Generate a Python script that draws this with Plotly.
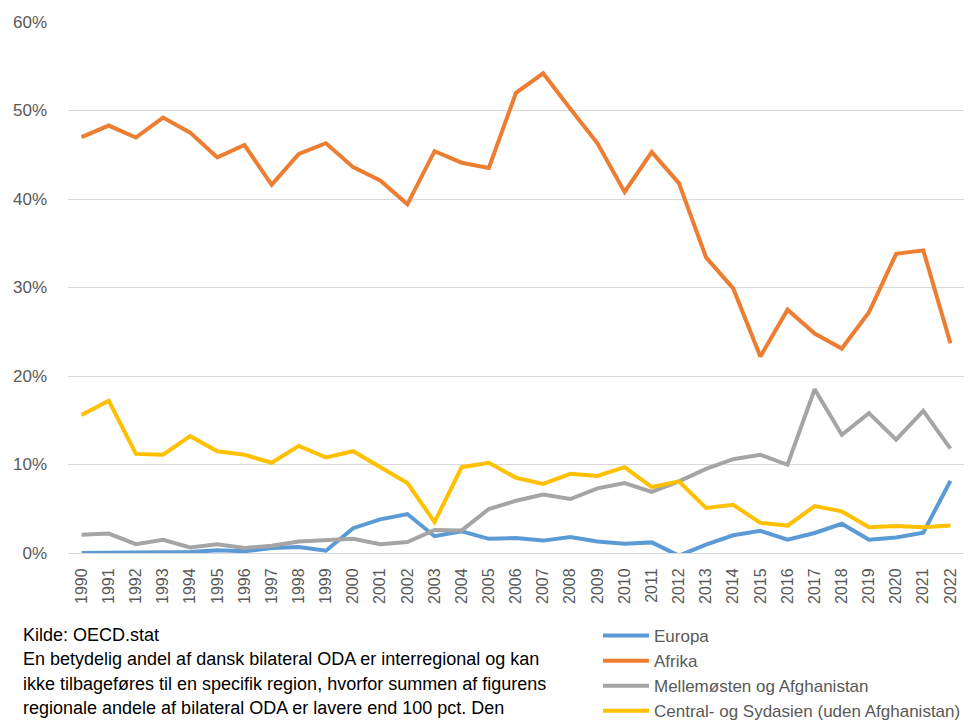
import plotly.graph_objects as go

years = [str(y) for y in range(1990, 2023)]

europa = [0.0, 0.0, 0.0, 0.0, 0.1, 0.3, 0.2, 0.56, 0.68, 0.26,
          2.8, 3.8, 4.4, 1.9, 2.45, 1.6, 1.7, 1.4, 1.8, 1.3,
          1.05, 1.2, -0.3, 0.94, 2.0, 2.5, 1.5, 2.26, 3.3, 1.5,
          1.76, 2.3, 8.15]
afrika = [47.0, 48.3, 46.95, 49.2, 47.5, 44.7, 46.1, 41.6, 45.1, 46.3,
          43.6, 42.1, 39.4, 45.4, 44.1, 43.5, 52.0, 54.2, 50.2, 46.3,
          40.8, 45.3, 41.8, 33.4, 29.9, 22.2, 27.5, 24.8, 23.1, 27.2,
          33.8, 34.2, 23.7]
mellemosten = [2.07, 2.2, 1.0, 1.5, 0.63, 1.0, 0.56, 0.82, 1.3, 1.5,
               1.6, 1.0, 1.24, 2.6, 2.55, 4.97, 5.9, 6.6, 6.1, 7.3,
               7.9, 6.9, 8.1, 9.5, 10.6, 11.1, 9.97, 18.5, 13.35, 15.8,
               12.8, 16.06, 11.8]
central = [15.6, 17.2, 11.2, 11.1, 13.2, 11.5, 11.1, 10.2, 12.1, 10.8,
           11.5, 9.7, 7.9, 3.5, 9.7, 10.2, 8.5, 7.8, 8.95, 8.7,
           9.7, 7.45, 8.1, 5.1, 5.45, 3.4, 3.1, 5.3, 4.7, 2.9,
           3.05, 2.9, 3.1]

series_names = ["Europa", "Afrika", "Mellemøsten og Afghanistan",
                "Central- og Sydasien (uden Afghanistan)"]
series_values = [europa, afrika, mellemosten, central]
series_colors = ["#5B9BD5", "#ED7D31", "#A5A5A5", "#FFC000"]

y_ticks = [0, 10, 20, 30, 40, 50, 60]
y_ticklabels = [f"{v}%" for v in y_ticks]

note_lines = [
    "Kilde: OECD.stat",
    "En betydelig andel af dansk bilateral ODA er interregional og kan",
    "ikke tilbageføres til en specifik region, hvorfor summen af figurens",
    "regionale andele af bilateral ODA er lavere end 100 pct. Den",
]

# page body margin of 8px is compensated for
OFF = 8
W, H = 974 - OFF, 722 - OFF
L, R, T, B = 68 - OFF, 10, 22 - OFF, 169
plot_w = W - L - R
plot_h = H - T - B


def px_to_paper_x(px):
    return (px - OFF - L) / plot_w


def px_to_paper_y(py):
    return (H - B - (py - OFF)) / plot_h


fig = go.Figure()
for name, vals, col in zip(series_names, series_values, series_colors):
    fig.add_trace(go.Scatter(
        x=years, y=vals, name=name, mode="lines",
        line=dict(color=col, width=4),
    ))

for i, txt in enumerate(note_lines):
    py = 635 + i * 24.4
    fig.add_annotation(
        text=txt, xref="paper", yref="paper",
        x=px_to_paper_x(21), y=px_to_paper_y(py),
        xanchor="left", yanchor="middle", showarrow=False,
        font=dict(family="Liberation Sans, Arial, sans-serif", size=18, color="#000000"),
    )

fig.update_layout(
    width=W, height=H,
    margin=dict(l=L, r=R, t=T, b=B, autoexpand=False),
    paper_bgcolor="white", plot_bgcolor="white",
    font=dict(family="Liberation Sans, Arial, sans-serif", color="#595959"),
    showlegend=True,
    legend=dict(
        x=px_to_paper_x(598), y=px_to_paper_y(618),
        xanchor="left", yanchor="top",
        font=dict(size=17, color="#595959"),
        bgcolor="rgba(0,0,0,0)", itemwidth=46,
        traceorder="normal",
    ),
    xaxis=dict(
        type="category", range=[-0.5, len(years) - 0.5],
        tickangle=-90, showgrid=False,
        showline=True, linecolor="#D9D9D9", linewidth=1,
        ticks="", tickfont=dict(size=16, color="#595959"),
        ticklabelstandoff=8,
    ),
    yaxis=dict(
        range=[0, 60], tickvals=y_ticks, ticktext=y_ticklabels,
        showgrid=True, gridcolor="#D9D9D9", gridwidth=1,
        zeroline=False, showline=False, ticks="",
        tickfont=dict(size=17, color="#595959"),
        ticklabelstandoff=20,
    ),
)

fig.write_html("out.html")
